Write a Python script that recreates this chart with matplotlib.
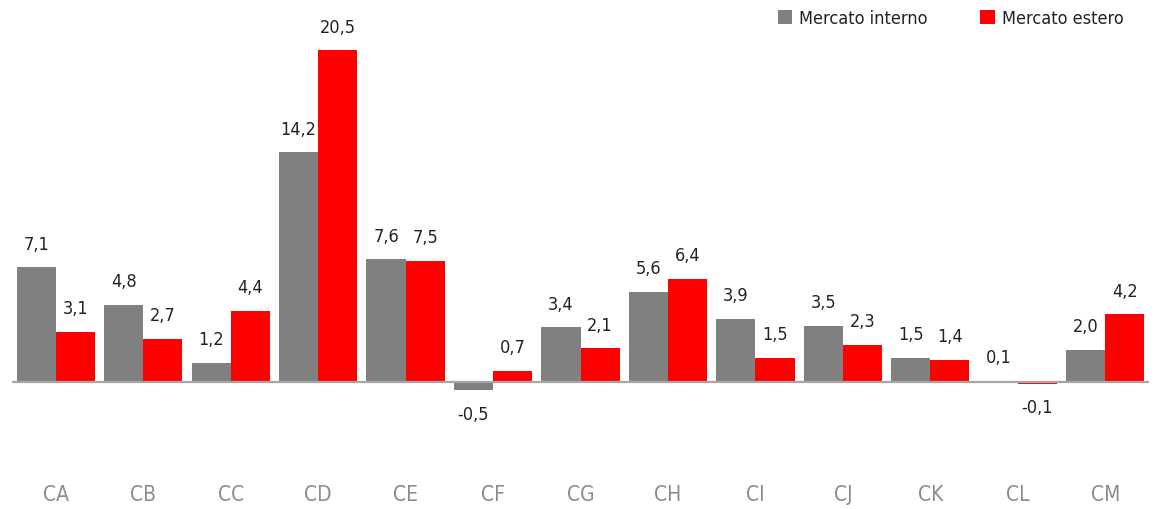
import numpy as np
import matplotlib.pyplot as plt
from matplotlib.patches import Patch

# font condensato
plt.rcParams['font.family'] = ['DejaVu Sans']
plt.rcParams['font.stretch'] = 'condensed'

# data
categorie = ['CA', 'CB', 'CC', 'CD', 'CE', 'CF', 'CG', 'CH', 'CI', 'CJ', 'CK', 'CL', 'CM']
interno = [7.1, 4.8, 1.2, 14.2, 7.6, -0.5, 3.4, 5.6, 3.9, 3.5, 1.5, 0.1, 2.0]
estero = [3.1, 2.7, 4.4, 20.5, 7.5, 0.7, 2.1, 6.4, 1.5, 2.3, 1.4, -0.1, 4.2]
serie = ['Mercato interno', 'Mercato estero']
colori = ['#808080', '#ff0000']

fig = plt.figure(figsize=(11.55, 5.1), dpi=100)
ax = fig.add_axes([12/1155, 1 - 448/510, (1149 - 12)/1155, (448 - 27)/510])

x = np.arange(len(categorie))
w = 0.447
for vals, off, col in [(interno, -w/2, colori[0]), (estero, w/2, colori[1])]:
    ax.bar(x + off, vals, width=w, color=col, edgecolor='none')
    for xi, v in zip(x + off, vals):
        txt = f'{v:.1f}'.replace('.', ',')
        dy = 17 if v >= 0 else -17
        ax.annotate(txt, (xi, v), xytext=(0, dy), textcoords='offset points',
                    ha='center', va='center', fontsize=13, color='#222222')

ax.axhline(0, color='#a6a6a6', lw=1.6, zorder=3)
ax.set_xlim(-0.5, 12.5)
ax.set_ylim(-4, 22)
ax.set_yticks([])
ax.set_xticks(x)
ax.set_xticklabels(categorie, fontsize=15, color='#8c8c8c')
ax.tick_params(axis='x', length=0, pad=27)
for s in ax.spines.values():
    s.set_visible(False)

handles = [Patch(facecolor=c, edgecolor='none') for c in colori]
fig.legend(handles, serie, loc='upper right', bbox_to_anchor=(0.987, 1.012), ncol=2,
           frameon=False, fontsize=13, handlelength=0.8, handleheight=0.8,
           handletextpad=0.4, columnspacing=2.9, labelcolor='#222222')

fig.savefig('out.png', dpi=100)
